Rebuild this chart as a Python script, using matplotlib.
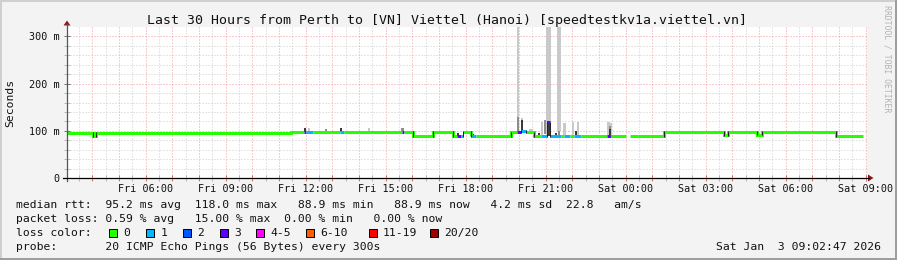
import matplotlib
matplotlib.use("Agg")
import matplotlib.pyplot as plt
from matplotlib.lines import Line2D
from matplotlib.patches import Rectangle, Polygon

W, H, DPI = 897, 260, 100

# ---------------- data ----------------
title = "Last 30 Hours from Perth to [VN] Viettel (Hanoi) [speedtestkv1a.viettel.vn]"
x_start, x_end = 3.0464, 33.0464          # hours since Fri 00:00
y_max = 320

tick_hours = [6, 9, 12, 15, 18, 21, 24, 27, 30, 33]
tick_labels = ["Fri 06:00", "Fri 09:00", "Fri 12:00", "Fri 15:00", "Fri 18:00",
               "Fri 21:00", "Sat 00:00", "Sat 03:00", "Sat 06:00", "Sat 09:00"]
y_ticks = [0, 100, 200, 300]
y_tick_labels = ["0", "100 m", "200 m", "300 m"]

# median RTT (ms) as runs: start hour, end hour, value, loss category index
seg_start = [3.05, 4.03, 4.12, 11.44, 11.93, 12.00, 12.26, 13.27, 13.42, 15.60, 15.70,
             16.01, 16.76, 17.51, 17.66, 17.81, 17.89, 18.18, 18.21, 18.38, 19.69,
             19.92, 20.06, 20.25, 20.57, 20.81, 21.04, 21.15, 21.56, 21.68, 21.90,
             22.05, 22.31, 23.31, 23.46, 24.15, 25.44, 27.67, 27.84, 28.91, 29.10, 31.88]
seg_end = [4.03, 4.12, 11.44, 11.93, 12.00, 12.26, 13.27, 13.42, 15.60, 15.70, 16.01,
           16.76, 17.51, 17.66, 17.81, 17.89, 18.18, 18.21, 18.38, 19.69, 19.92,
           20.06, 20.25, 20.57, 20.81, 21.04, 21.15, 21.56, 21.68, 21.90, 22.05,
           22.31, 23.31, 23.46, 24.00, 25.44, 27.67, 27.84, 28.91, 29.10, 31.88, 32.91]
seg_ms = [96, 89, 96, 98, 98, 98, 98, 98, 98, 98, 98,
          89, 98, 89, 89, 89, 98, 89, 89, 89, 96.5,
          96.5, 100, 96.5, 89, 89, 118, 89, 89, 89, 89,
          89, 89, 89, 89, 89, 98, 91, 98, 92, 98, 89]
seg_loss = [0, 0, 0, 0, 3, 1, 0, 1, 0, 3, 0,
            0, 0, 0, 3, 1, 0, 0, 1, 0, 0,
            3, 1, 0, 0, 1, 3, 1, 0, 1, 0,
            1, 0, 3, 0, 0, 0, 0, 0, 0, 0, 0]

# smoke (spread of the 20 pings) for the noisy samples
smoke_t = [11.96, 12.12, 12.75, 13.31, 14.36, 15.63, 17.72, 18.26, 19.71,
           19.96, 19.96, 20.12, 20.12, 20.40, 20.49, 20.76, 20.85, 20.96,
           21.06, 21.14, 21.10, 21.39, 21.45, 21.54, 21.50, 21.70, 22.03, 22.12, 22.21,
           23.35, 23.45, 23.40, 23.40]
smoke_lo = [98, 98, 99, 98, 98, 98, 89, 89, 89,
            100, 97, 96, 98, 97, 97, 89, 91, 94,
            89, 89, 89, 91, 100, 100, 89, 91, 91, 91, 91,
            91, 91, 90, 89]
smoke_hi = [105, 105, 104, 105, 105, 106, 96, 93, 99,
            340, 129, 127, 123, 103, 103, 96, 119, 122,
            340, 340, 120, 96, 340, 340, 100, 117, 119, 100, 118,
            119, 116, 110, 103]
smoke_shade = ["dark", "light", "mid", "dark", "light", "mid", "dark", "dark", "dark",
               "light", "mid", "light", "dark", "light", "light", "dark", "light", "mid",
               "light", "light", "dark", "dark", "light", "light", "mid", "light", "light", "dark", "light",
               "light", "light", "mid", "dark"]

loss_labels = ["0", "1", "2", "3", "4-5", "6-10", "11-19", "20/20"]
loss_colors = ["#26ff00", "#00b8ff", "#0059ff", "#5e00ff", "#ff00ff", "#ff5e00", "#ff0000", "#a10000"]

stats_rtt = "median rtt:  95.2 ms avg  118.0 ms max   88.9 ms min   88.9 ms now   4.2 ms sd  22.8   am/s"
stats_loss = "packet loss: 0.59 % avg   15.00 % max  0.00 % min   0.00 % now"
loss_head = "loss color:"
probe_text = "probe:       20 ICMP Echo Pings (56 Bytes) every 300s"
date_text = "Sat Jan  3 09:02:47 2026"
credit = "RRDTOOL / TOBI OETIKER"
y_label = "Seconds"

# ---------------- style ----------------
MONO = "DejaVu Sans Mono"
BG = "#f3f3f3"
shade_col = {"light": "#c9c9c9", "mid": "#8e8e8e", "dark": "#3a3a3a"}
shade_z = {"light": 1.0, "mid": 1.5, "dark": 2.0}
MAJ = "#f19a9a"
MIN = "#cdcdcd"
ARROW = "#8b1a1a"

fig = plt.figure(figsize=(W / DPI, H / DPI), dpi=DPI, facecolor=BG)

def fx(x):
    return x / W

def fy(y):
    return 1 - y / H

L, R, T, B = 67, 867, 27, 178
ax = fig.add_axes([fx(L), fy(B), (R - L) / W, (B - T) / H])
ax.set_facecolor("white")
ax.set_xlim(x_start, x_end)
ax.set_ylim(0, y_max)
for s in ax.spines.values():
    s.set_visible(False)

# grid
hours = list(range(4, 34))
half = [h + 0.5 for h in range(3, 33)]
lab_map = dict(zip(tick_hours, tick_labels))
ax.set_xticks(hours, labels=[lab_map.get(h, "") for h in hours])
ax.set_xticks(half, minor=True)
ax.set_yticks(y_ticks, labels=y_tick_labels)
ax.set_yticks([v for v in range(20, 320, 20) if v % 100], minor=True)
ax.grid(which="major", color=MAJ, lw=0.72, ls=(0, (1, 2)), zorder=0)
ax.grid(which="minor", color=MIN, lw=0.72, ls=(0, (1, 2)), zorder=0)
ax.set_axisbelow(True)
ax.tick_params(axis="x", which="major", direction="inout", length=4, width=0.72,
               color="#e07070", pad=2.5, labelsize=7.3)
ax.tick_params(axis="x", which="minor", direction="inout", length=4, width=0.72, color="#bbbbbb")
ax.tick_params(axis="y", which="major", direction="inout", length=4, width=0.72,
               color="#777777", pad=3.2, labelsize=7.3)
ax.tick_params(axis="y", which="minor", direction="inout", length=4, width=0.72, color="#bbbbbb")
for lab in ax.get_xticklabels() + ax.get_yticklabels():
    lab.set_fontfamily(MONO)
    lab.set_color("#111111")

# smoke
for t, lo, hi, sh in zip(smoke_t, smoke_lo, smoke_hi, smoke_shade):
    ax.bar(t, hi - lo, bottom=lo, width=5 / 60, color=shade_col[sh], lw=0, zorder=shade_z[sh])

# median line runs coloured by loss
runs = []
for s, e, v, l in zip(seg_start, seg_end, seg_ms, seg_loss):
    if runs and abs(runs[-1]["x"][-1] - s) < 1e-6 and runs[-1]["loss"] == l:
        runs[-1]["x"] += [s, e]
        runs[-1]["y"] += [v, v]
    else:
        runs.append({"x": [s, e], "y": [v, v], "loss": l})
for r in runs:
    ax.plot(r["x"], r["y"], color=loss_colors[r["loss"]], lw=2.16,
            solid_joinstyle="miter", solid_capstyle="butt", zorder=3)
# dark edges where the median steps
for i in range(1, len(seg_start)):
    if abs(seg_start[i] - seg_end[i - 1]) < 1e-6 and abs(seg_ms[i] - seg_ms[i - 1]) >= 3:
        ax.vlines(seg_start[i], min(seg_ms[i], seg_ms[i - 1]) - 1.5,
                  max(seg_ms[i], seg_ms[i - 1]) + 1.5, color="#222222", lw=0.72, zorder=4)

# axes lines and arrows (figure pixel coordinates)
fig.add_artist(Line2D([fx(L), fx(L)], [fy(B + 3), fy(24)], color="#555555", lw=0.9))
fig.add_artist(Line2D([fx(63), fx(869)], [fy(B), fy(B)], color="#000000", lw=0.9))
fig.add_artist(Polygon([(fx(L - 3.5), fy(25.5)), (fx(L + 3.5), fy(25.5)), (fx(L), fy(20.5))],
                       closed=True, color=ARROW, lw=0))
fig.add_artist(Polygon([(fx(868), fy(B - 3.5)), (fx(868), fy(B + 3.5)), (fx(873.5), fy(B))],
                       closed=True, color=ARROW, lw=0))

# texts
fig.text(fx(147), fy(24), title, family=MONO, fontsize=9.5, color="#111111", va="baseline", ha="left")
fig.text(fx(10), fy(102.5), y_label, family=MONO, fontsize=8.2, rotation=90,
         ha="center", va="center", color="#111111")
fig.text(fx(887), fy(5), credit, family=MONO, fontsize=5.9, rotation=270,
         ha="center", va="top", color="#b3b3b3")

LX = 16.3
fig.text(fx(LX), fy(208), stats_rtt, family=MONO, fontsize=8.19, va="baseline", color="#111111")
fig.text(fx(LX), fy(222), stats_loss, family=MONO, fontsize=8.19, va="baseline", color="#111111")
fig.text(fx(LX), fy(236), loss_head, family=MONO, fontsize=8.19, va="baseline", color="#111111")
fig.text(fx(LX), fy(249.5), probe_text, family=MONO, fontsize=8.19, va="baseline", color="#111111")
fig.text(fx(880.5), fy(249.5), date_text, family=MONO, fontsize=8.19, va="baseline",
         ha="right", color="#111111")

box_x = [108.5, 146, 183, 219.5, 256, 306, 368.5, 430]
for bx, lab, col in zip(box_x, loss_labels, loss_colors):
    fig.add_artist(Rectangle((fx(bx), fy(236.5)), 8 / W, 8 / H, facecolor=col,
                             edgecolor="#000000", lw=0.72))
    fig.text(fx(bx + 14.5), fy(236), lab, family=MONO, fontsize=8.19, va="baseline", color="#111111")

# 3D border
fig.add_artist(Line2D([0, 1], [fy(0.5), fy(0.5)], color="#cfcfcf", lw=1.44))
fig.add_artist(Line2D([fx(0.5), fx(0.5)], [0, 1], color="#cfcfcf", lw=1.44))
fig.add_artist(Line2D([0, 1], [fy(H - 1), fy(H - 1)], color="#9e9e9e", lw=1.44))
fig.add_artist(Line2D([fx(W - 1), fx(W - 1)], [0, 1], color="#9e9e9e", lw=1.44))

fig.savefig("out.png", dpi=DPI, facecolor=BG)
